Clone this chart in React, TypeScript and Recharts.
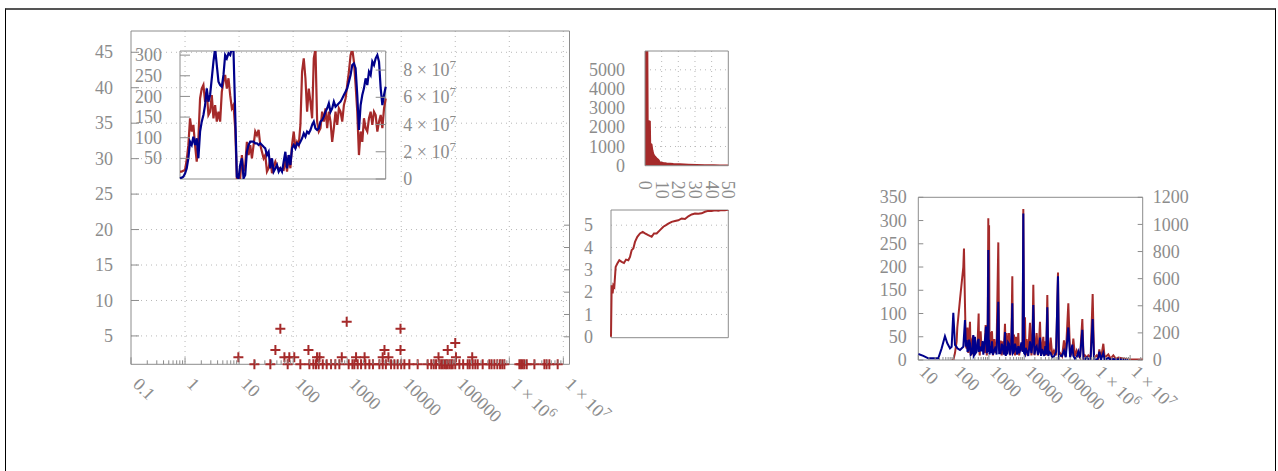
import React from 'react';
import {
  ScatterChart, Scatter, LineChart, Line, AreaChart, Area,
  XAxis, YAxis, CartesianGrid, ReferenceArea,
} from 'recharts';

const RED = '#a52a2a';
const BLUE = '#00008b';
const AXIS = '#8c8c8c';
const TEXT = '#8c8c8c';
const GRID = '#b8b8b8';
const FONT = '"Liberation Serif", "DejaVu Serif", serif';
const FS = 18;

// ---------------- main panel (scatter of "+" marks) ----------------
const MAIN_X_TICKS = [0.1, 1, 10, 100, 1000, 10000, 100000, 1000000, 10000000];
const MAIN_X_LABELS = ['0.1', '1', '10', '100', '1000', '10000', '100000', '1 × 10^6', '1 × 10^7'];
const MAIN_Y_TICKS = [5, 10, 15, 20, 25, 30, 35, 40, 45];
const MAIN_Y_LABELS = ['5', '10', '15', '20', '25', '30', '35', '40', '45'];

const MARKS_Y1 = [19.2, 37.9, 79.3, 136, 200, 237, 265, 297, 353, 418, 503, 604, 717, 1066, 1250, 1358, 1566, 1808, 2172, 2576, 3000, 3946, 4543, 5200, 6486, 7470, 8603, 10000, 11440, 14150, 20160, 30880, 36000, 40000, 44130, 50850, 55000, 58600, 63000, 67580, 72000, 77850, 84000, 89700, 100000, 119200, 140000, 169800, 185000, 210100, 235000, 260000, 321600, 427300, 470000, 529400, 600000, 674400, 740000, 810500, 1537000, 1650000, 1771000, 1900000, 2100000, 2913000, 4461000, 4900000, 5513000, 7857000];
const MARKS_Y2 = [9.7, 69, 85, 105, 277, 308, 795, 1460, 2100, 4540, 5800, 49000, 103000, 206000];
const MARKS_Y3 = [47, 192, 4900, 9700, 72500];
const MARKS_Y4 = [100000];
const MARKS_Y6 = [58, 9700];
const MARKS_Y7 = [980];

// ---------------- inset (two lines, twin axes) ----------------
const INSET_L_TICKS = [50, 100, 150, 200, 250, 300];
const INSET_L_LABELS = ['50', '100', '150', '200', '250', '300'];
const INSET_R_TICKS = [0, 2, 4, 6, 8];
const INSET_R_LABELS = ['0', '2 × 10^7', '4 × 10^7', '6 × 10^7', '8 × 10^7'];
const INSET_RED = [
  18, 18, 20, 22, 46, 82, 147, 115, 131, 82,
  42, 98, 195, 219, 228, 187, 211, 155, 163, 203,
  147, 179, 139, 163, 139, 211, 236, 252, 219, 244,
  203, 171, 179, 123, 2, 6, 2, 58, 18, 34,
  90, 58, 82, 50, 82, 115, 106, 119, 82, 66,
  50, 58, 18, 26, 50, 14, 30, 42, 30, 26,
  26, 23, 22, 50, 18, 58, 26, 82, 115, 74,
  90, 82, 131, 260, 292, 244, 163, 219, 187, 147,
  292, 315, 139, 115, 123, 163, 139, 171, 123, 163,
  139, 90, 123, 163, 131, 171, 163, 139, 179, 195,
  228, 260, 300, 315, 284, 228, 163, 58, 115, 90,
  147, 123, 115, 147, 163, 131, 163, 155, 115, 139,
  155, 123, 171, 195,
];
// blue, in units of 10^7
const INSET_BLUE = [
  0.05, 0.1, 0.17, 0.4, 0.78, 1.52, 2.74, 2.5, 3.11, 2.5,
  2.99, 1.52, 3.48, 4.21, 4.7, 5.43, 6.66, 5.68, 6.17, 7.39,
  8.62, 9.6, 8.37, 7.15, 6.9, 6.78, 7.64, 9.1, 8.86, 9.23,
  9.1, 9.6, 9.35, 4.9, 0.17, 0.05, 1.03, 1.52, 0.05, 0.29,
  2.0, 2.5, 2.74, 2.74, 2.74, 2.62, 2.62, 2.5, 2.62, 2.5,
  2.37, 2.25, 1.76, 2.0, 0.78, 1.52, 0.54, 0.78, 1.03, 0.54,
  0.78, 0.54, 1.27, 2.0, 0.78, 1.76, 1.03, 2.25, 2.5, 2.25,
  2.62, 2.5, 2.74, 2.99, 3.35, 3.11, 3.48, 3.35, 3.6, 3.97,
  4.21, 3.72, 3.6, 3.72, 4.21, 4.33, 4.58, 4.94, 5.19, 5.56,
  4.94, 5.19, 5.68, 5.31, 5.43, 5.56, 5.68, 5.92, 6.17, 6.41,
  6.66, 7.15, 7.64, 8.37, 8.49, 8.13, 6.17, 3.6, 5.43, 6.17,
  6.66, 7.39, 6.9, 7.88, 7.64, 8.62, 8.37, 8.86, 9.1, 8.62,
  6.66, 5.43, 6.17, 6.78,
];

// ---------------- top-right small panel ----------------
const TR_X_TICKS = [0, 10, 20, 30, 40, 50];
const TR_X_LABELS = ['0', '10', '20', '30', '40', '50'];
const TR_Y_TICKS = [0, 1000, 2000, 3000, 4000, 5000];
const TR_Y_LABELS = ['0', '1000', '2000', '3000', '4000', '5000'];
const TR_SERIES: [number, number][] = [
  [0, 6000], [1.4, 6000], [1.6, 2350], [2.9, 2300], [3.1, 1150], [3.9, 1100], [4.4, 800],
  [5, 600], [6, 470], [7, 380], [8, 300], [9, 170], [11, 140], [13, 120], [15, 105], [17, 90],
  [21, 70], [26, 50], [31, 35], [36, 25], [41, 17], [45, 14], [50, 12],
];

// ---------------- middle-right panel ----------------
const MR_Y_TICKS = [0, 1, 2, 3, 4, 5];
const MR_Y_LABELS = ['0', '1', '2', '3', '4', '5'];
const MR_SERIES: [number, number][] = [
  [0, 0], [2, 2.31], [5, 1.94], [7, 2.31], [10, 2.24], [14, 3.13], [19, 3.28], [25, 3.43],
  [32, 3.36], [39, 3.31], [45, 3.46], [52, 3.43], [57, 3.58], [62, 3.88], [67, 3.96], [72, 4.25],
  [79, 4.48], [87, 4.63], [95, 4.7], [102, 4.63], [112, 4.55], [122, 4.48], [129, 4.63],
  [137, 4.63], [147, 4.78], [157, 4.93], [165, 5.0], [172, 5.07], [182, 5.15], [192, 5.19],
  [202, 5.22], [212, 5.3], [222, 5.28], [232, 5.4], [242, 5.48], [252, 5.52], [262, 5.51],
  [272, 5.53], [282, 5.6], [292, 5.64], [302, 5.63], [312, 5.67], [322, 5.65], [332, 5.68],
  [342, 5.67], [352, 5.7],
];

// ---------------- right panel ----------------
const RP_X_TICKS = [10, 100, 1000, 10000, 100000, 1000000, 10000000];
const RP_X_LABELS = ['10', '100', '1000', '10000', '100000', '1 × 10^6', '1 × 10^7'];
const RP_L_TICKS = [0, 50, 100, 150, 200, 250, 300, 350];
const RP_L_LABELS = ['0', '50', '100', '150', '200', '250', '300', '350'];
const RP_R_TICKS = [0, 200, 400, 600, 800, 1000, 1200];
const RP_R_LABELS = ['0', '200', '400', '600', '800', '1000', '1200'];
const RP_RED: [number, number][] = [
  [88, 0], [98.1, 0], [109.3, 15], [121.9, 40], [127.3, 70], [151.5, 130], [188.3, 200], [196.7, 240],
  [209.9, 120], [222, 30], [234, 25], [248, 70], [260.9, 15], [275, 40], [290.9, 82], [305, 10],
  [324.3, 14], [340, 45], [361.6, 52], [372, 10], [385.9, 20], [403.1, 15], [420, 30], [449.4, 20],
  [480, 40], [512.1, 100], [523.4, 30], [550, 10], [583.3, 62], [622.6, 20], [660, 35], [694, 25],
  [750, 15], [808.1, 75], [825.9, 40], [870, 10], [920, 50], [961.6, 305], [985, 20], [1010, 290],
  [1040, 35], [1072, 60], [1130, 15], [1222, 62], [1300, 10], [1422, 45], [1550, 15], [1650, 30],
  [1846, 253], [1950, 20], [2150, 42], [2300, 10], [2449, 40], [2650, 15], [2852, 78], [3000, 10],
  [3180, 58], [3321, 15], [3500, 30], [3703, 58], [4000, 10], [4300, 30], [4602, 180], [4800, 20],
  [5130, 55], [5500, 10], [5845, 50], [6300, 15], [6806, 58], [7200, 10], [7589, 30], [8300, 20],
  [9000, 40], [9430, 325], [9900, 20], [10513, 92], [11000, 10], [11722, 45], [13000, 15],
  [14569, 80], [16000, 10], [17000, 30], [18104, 162], [19500, 10], [21000, 30], [22501, 58],
  [24500, 10], [26000, 30], [27963, 82], [30000, 10], [32000, 25], [34760, 50], [37000, 10],
  [39605, 40], [42000, 10], [45122, 140], [48000, 10], [52000, 20], [56096, 48], [62000, 10],
  [69709, 20], [80000, 10], [90500, 188], [96000, 10], [103085, 15], [118000, 8], [133843, 42],
  [150000, 8], [177580, 122], [200000, 8], [230470, 20], [246000, 46], [274260, 8], [305800, 20],
  [340900, 10], [380000, 5], [442500, 88], [480000, 5], [526500, 10], [600000, 5], [654500, 10],
  [760000, 5], [868400, 142], [950000, 5], [1127000, 10], [1250000, 3], [1341000, 23],
  [1500000, 3], [1741000, 35], [1900000, 5], [2413000, 12], [2800000, 3], [3343000, 10],
  [4000000, 2], [4633000, 5], [6420000, 3], [8895000, 1], [12320000, 1], [22650000, 1],
];
// blue series read against the right axis (0-1200)
const RP_BLUE: [number, number][] = [
  [10, 44], [13.9, 30], [19.2, 12], [36.9, 12], [45.8, 86], [56.9, 175], [66.3, 123], [78.9, 86],
  [88, 98], [98.1, 349], [109.3, 111], [121.9, 95], [127.3, 86], [151.5, 74], [188.3, 98],
  [209.9, 295], [222, 100], [234, 147], [248, 60], [260.9, 74], [275, 150], [290.9, 123], [305, 40],
  [324.3, 49], [340, 90], [361.6, 184], [372, 30], [385.9, 37], [403.1, 172], [420, 50], [449.4, 61],
  [480, 140], [512.1, 155], [523.4, 60], [550, 100], [583.3, 70], [622.6, 70], [660, 140], [694, 40],
  [750, 120], [808.1, 200], [825.9, 247], [870, 50], [920, 120], [961.6, 812], [985, 60], [1010, 150],
  [1040, 40], [1072, 103], [1130, 50], [1222, 137], [1300, 40], [1422, 70], [1550, 100], [1650, 40],
  [1846, 429], [1950, 50], [2150, 50], [2300, 120], [2449, 96], [2650, 40], [2852, 206], [3000, 30],
  [3180, 100], [3321, 41], [3500, 130], [3703, 120], [4000, 40], [4300, 100], [4602, 418], [4800, 50],
  [5130, 61], [5500, 120], [5845, 86], [6300, 40], [6806, 103], [7200, 50], [7589, 69], [8300, 130],
  [9000, 60], [9430, 1080], [9900, 52], [10513, 40], [11000, 90], [11722, 69], [13000, 30],
  [14569, 137], [16000, 50], [17000, 120], [18104, 405], [19500, 40], [21000, 90], [22501, 103],
  [24500, 40], [26000, 60], [27963, 165], [30000, 30], [32000, 80], [34760, 52], [37000, 30],
  [39605, 103], [42000, 40], [45122, 388], [48000, 30], [52000, 60], [56096, 52], [62000, 20],
  [69709, 27], [80000, 60], [90500, 617], [96000, 20], [103085, 34], [118000, 30], [133843, 69],
  [150000, 20], [177580, 240], [200000, 20], [230470, 113], [246000, 30], [274260, 10], [305800, 20],
  [340900, 62], [380000, 15], [442500, 223], [480000, 10], [526500, 5], [600000, 20], [654500, 5],
  [760000, 10], [868400, 302], [950000, 5], [1127000, 3], [1250000, 15], [1341000, 62],
  [1500000, 5], [1741000, 52], [1900000, 3], [2413000, 15], [2800000, 3], [3343000, 8],
  [4000000, 2], [4633000, 5], [6420000, 1], [8895000, 0],
];

// ---------------- derived tables ----------------
const MAIN_X_MAX = 1.3e7;
const RP_X_MAX = 2.27e7;
const minors = (decades: number[], max: number) =>
  decades.flatMap((d) => [2, 3, 4, 5, 6, 7, 8, 9].map((m) => m * d)).filter((v) => v < max);
const MAIN_X_ALL = [...MAIN_X_TICKS, ...minors([0.1, 1, 10, 100, 1e3, 1e4, 1e5, 1e6], MAIN_X_MAX)];
const RP_X_ALL = [...RP_X_TICKS, ...minors([10, 100, 1e3, 1e4, 1e5, 1e6, 1e7], RP_X_MAX)];

const markData = [
  ...MARKS_Y1.map((x) => ({ x, y: 1 })),
  ...MARKS_Y2.map((x) => ({ x, y: 2 })),
  ...MARKS_Y3.map((x) => ({ x, y: 3 })),
  ...MARKS_Y4.map((x) => ({ x, y: 4 })),
  ...MARKS_Y6.map((x) => ({ x, y: 6 })),
  ...MARKS_Y7.map((x) => ({ x, y: 7 })),
];
const insetData = INSET_RED.map((r, i) => ({ i, r, b: INSET_BLUE[i] }));
const trData = TR_SERIES.map(([x, v]) => ({ x, v }));
const mrData = MR_SERIES.map(([t, v]) => ({ t, v }));
const rpRed = RP_RED.map(([x, v]) => ({ x, v }));
const rpBlue = RP_BLUE.map(([x, v]) => ({ x, v }));

// ---------------- tick renderers ----------------
const TickText = ({ s }: { s: string }) => {
  const [base, exp] = s.split('^');
  return (
    <>
      {base}
      {exp !== undefined && (
        <tspan dy={-7} fontSize={13}>
          {exp}
        </tspan>
      )}
    </>
  );
};

const textProps = { fill: TEXT, fontFamily: FONT, fontSize: FS } as const;

const leftTick =
  (ticks: number[], labels: string[], gap: number, len: number, outer?: [number, number]) =>
  (p: any) => {
    const i = ticks.indexOf(p.payload.value);
    if (i < 0) return <g />;
    return (
      <g>
        {len > 0 && <line x1={p.x} x2={p.x + len} y1={p.y} y2={p.y} stroke={AXIS} />}
        {outer && <line x1={p.x - outer[0]} x2={p.x - outer[1]} y1={p.y} y2={p.y} stroke={AXIS} />}
        <text x={p.x - gap} y={p.y} dy="0.34em" textAnchor="end" {...textProps}>
          <TickText s={labels[i]} />
        </text>
      </g>
    );
  };

const rightTick = (ticks: number[], labels: string[], gap: number, len: number) => (p: any) => {
  const i = ticks.indexOf(p.payload.value);
  if (i < 0) return <g />;
  return (
    <g>
      {len > 0 && <line x1={p.x} x2={p.x - len} y1={p.y} y2={p.y} stroke={AXIS} />}
      <text x={p.x + gap} y={p.y} dy="0.34em" textAnchor="start" {...textProps}>
        <TickText s={labels[i]} />
      </text>
    </g>
  );
};

const logXTick =
  (ticks: number[], labels: string[], dx: number, dy: number, majorLen: number, minorLen: number) =>
  (p: any) => {
    const i = ticks.indexOf(p.payload.value);
    const major = i >= 0;
    const ax = p.x + dx;
    const ay = p.y + dy;
    return (
      <g>
        <line x1={p.x} x2={p.x} y1={p.y} y2={p.y - (major ? majorLen : minorLen)} stroke={AXIS} />
        {major && (
          <text x={ax} y={ay} transform={`rotate(45 ${ax} ${ay})`} textAnchor="start" {...textProps}>
            <TickText s={labels[i]} />
          </text>
        )}
      </g>
    );
  };

const trXTick = (p: any) => {
  const i = TR_X_TICKS.indexOf(p.payload.value);
  if (i < 0) return <g />;
  const ax = p.x - 6;
  const ay = p.y + 15;
  return (
    <text x={ax} y={ay} transform={`rotate(90 ${ax} ${ay})`} textAnchor="start" {...textProps}>
      {TR_X_LABELS[i]}
    </text>
  );
};

const PlusShape = (p: any) => (
  <path
    d={`M${p.cx - 5},${p.cy}H${p.cx + 5}M${p.cx},${p.cy - 5}V${p.cy + 5}`}
    stroke={RED}
    strokeWidth={2}
    fill="none"
  />
);

const abs = (left: number, top: number): React.CSSProperties => ({ position: 'absolute', left, top });

export default function App() {
  return (
    <div style={{ position: 'absolute', left: 0, top: 0, width: 1278, height: 471, overflow: 'hidden', background: '#fff' }}>
      <div
        style={{
          position: 'absolute', left: 5, top: 8, width: 1271, height: 480, boxSizing: 'border-box',
          borderLeft: '1px solid #000', borderRight: '1px solid #000', borderTop: '2px solid #555',
        }}
      />

      {/* main panel */}
      <div style={abs(0, 0)}>
        <ScatterChart width={640} height={471} margin={{ top: 31, right: 70.5, bottom: 66.7, left: 0 }}>
          <CartesianGrid
            stroke={GRID}
            strokeDasharray="1 4"
            horizontalValues={MAIN_Y_TICKS}
            verticalValues={MAIN_X_TICKS.slice(1)}
          />
          <XAxis
            type="number" dataKey="x" scale="log" domain={[0.1, MAIN_X_MAX]}
            ticks={MAIN_X_ALL} interval={0} height={40} tickLine={false} axisLine={false}
            tickSize={0} tickMargin={0} tick={logXTick(MAIN_X_TICKS, MAIN_X_LABELS, 1, 21, 7, 4)}
          />
          <YAxis
            type="number" dataKey="y" domain={[1, 48]} ticks={MAIN_Y_TICKS}
            interval={0} width={131} tickLine={false} axisLine={false} tickSize={0} tickMargin={0}
            tick={leftTick(MAIN_Y_TICKS, MAIN_Y_LABELS, 18, 8)}
          />
          <ReferenceArea x1={0.1} x2={MAIN_X_MAX} y1={1} y2={48} fill="none" stroke={AXIS} ifOverflow="visible" />
          <Scatter data={markData} shape={PlusShape} isAnimationActive={false} />
        </ScatterChart>
      </div>

      {/* inset */}
      <div style={abs(0, 0)}>
        <LineChart width={480} height={200} data={insetData} margin={{ top: 51, right: 0, bottom: 21, left: 0 }}>
          <XAxis type="number" dataKey="i" domain={[0, 123]} hide />
          <YAxis
            yAxisId="L" domain={[0, 310]} allowDataOverflow ticks={INSET_L_TICKS} interval={0} width={180}
            tickLine={false} axisLine={false} tickSize={0} tickMargin={0}
            tick={leftTick(INSET_L_TICKS, INSET_L_LABELS, 18, 10)}
          />
          <YAxis
            yAxisId="R" orientation="right" domain={[0, 9.4]} allowDataOverflow ticks={INSET_R_TICKS}
            interval={0} width={94.3} tickLine={false} axisLine={false} tickSize={0} tickMargin={0}
            tick={rightTick(INSET_R_TICKS, INSET_R_LABELS, 17.6, 10)}
          />
          <ReferenceArea yAxisId="L" x1={0} x2={123} y1={0} y2={310} fill="none" stroke={AXIS} ifOverflow="visible" />
          <Line yAxisId="L" dataKey="r" stroke={RED} strokeWidth={2.2} dot={false} isAnimationActive={false} />
          <Line yAxisId="R" dataKey="b" stroke={BLUE} strokeWidth={2.2} dot={false} isAnimationActive={false} />
        </LineChart>
      </div>

      {/* top-right small panel */}
      <div style={abs(560, 0)}>
        <AreaChart width={200} height={240} data={trData} margin={{ top: 51, right: 31.7, bottom: 34.3, left: 0 }}>
          <CartesianGrid
            stroke={GRID} strokeDasharray="1 4"
            horizontalValues={TR_Y_TICKS.slice(1)} verticalValues={TR_X_TICKS.slice(1, 5)}
          />
          <XAxis
            type="number" dataKey="x" domain={[0, 50]} ticks={TR_X_TICKS} interval={0} height={40}
            tickLine={false} axisLine={false} tickSize={0} tickMargin={0} tick={trXTick}
          />
          <YAxis
            domain={[0, 5980]} allowDataOverflow ticks={TR_Y_TICKS} interval={0} width={85}
            tickLine={false} axisLine={false} tickSize={0} tickMargin={0}
            tick={leftTick(TR_Y_TICKS, TR_Y_LABELS, 20, 0)}
          />
          <Area
            type="linear" dataKey="v" stroke={RED} strokeWidth={2} fill={RED} fillOpacity={1}
            isAnimationActive={false} dot={false}
          />
          <ReferenceArea x1={0} x2={50} y1={0} y2={5980} fill="none" stroke={AXIS} ifOverflow="visible" />
        </AreaChart>
      </div>

      {/* middle-right panel */}
      <div style={abs(540, 190)}>
        <LineChart width={200} height={160} data={mrData} margin={{ top: 20, right: 11.7, bottom: 12.3, left: 0 }}>
          <CartesianGrid stroke={GRID} strokeDasharray="1 4" vertical={false} horizontalValues={MR_Y_TICKS.slice(1)} />
          <XAxis type="number" dataKey="t" domain={[0, 352]} hide />
          <YAxis
            domain={[-0.04, 5.68]} allowDataOverflow ticks={MR_Y_TICKS} interval={0} width={71}
            tickLine={false} axisLine={false} tickSize={0} tickMargin={0}
            tick={leftTick(MR_Y_TICKS, MR_Y_LABELS, 18, 0, [47, 41])}
          />
          <ReferenceArea x1={0} x2={352} y1={-0.04} y2={5.68} fill="none" stroke={AXIS} ifOverflow="visible" />
          <Line type="linear" dataKey="v" stroke={RED} strokeWidth={2} dot={false} isAnimationActive={false} />
        </LineChart>
      </div>

      {/* right panel */}
      <div style={abs(860, 170)}>
        <LineChart width={400} height={301} margin={{ top: 27.3, right: 57.3, bottom: 71, left: 0 }}>
          <XAxis
            type="number" dataKey="x" scale="log" domain={[10, RP_X_MAX]} allowDataOverflow
            ticks={RP_X_ALL} interval={0} height={40} tickLine={false} axisLine={false}
            tickSize={0} tickMargin={0} tick={logXTick(RP_X_TICKS, RP_X_LABELS, 0, 13, 5, 3)}
          />
          <YAxis
            yAxisId="L" domain={[0, 350]} allowDataOverflow ticks={RP_L_TICKS} interval={0} width={58.3}
            tickLine={false} axisLine={false} tickSize={0} tickMargin={0}
            tick={leftTick(RP_L_TICKS, RP_L_LABELS, 11.6, 5)}
          />
          <YAxis
            yAxisId="R" orientation="right" domain={[0, 1200]} allowDataOverflow ticks={RP_R_TICKS}
            interval={0} width={60} tickLine={false} axisLine={false} tickSize={0} tickMargin={0}
            tick={rightTick(RP_R_TICKS, RP_R_LABELS, 10, 5)}
          />
          <Line yAxisId="L" data={rpRed} dataKey="v" stroke={RED} strokeWidth={2} dot={false} isAnimationActive={false} />
          <Line yAxisId="R" data={rpBlue} dataKey="v" stroke={BLUE} strokeWidth={2} dot={false} isAnimationActive={false} />
          <ReferenceArea yAxisId="L" x1={10} x2={RP_X_MAX} y1={0} y2={350} fill="none" stroke={AXIS} ifOverflow="visible" />
        </LineChart>
      </div>
    </div>
  );
}
